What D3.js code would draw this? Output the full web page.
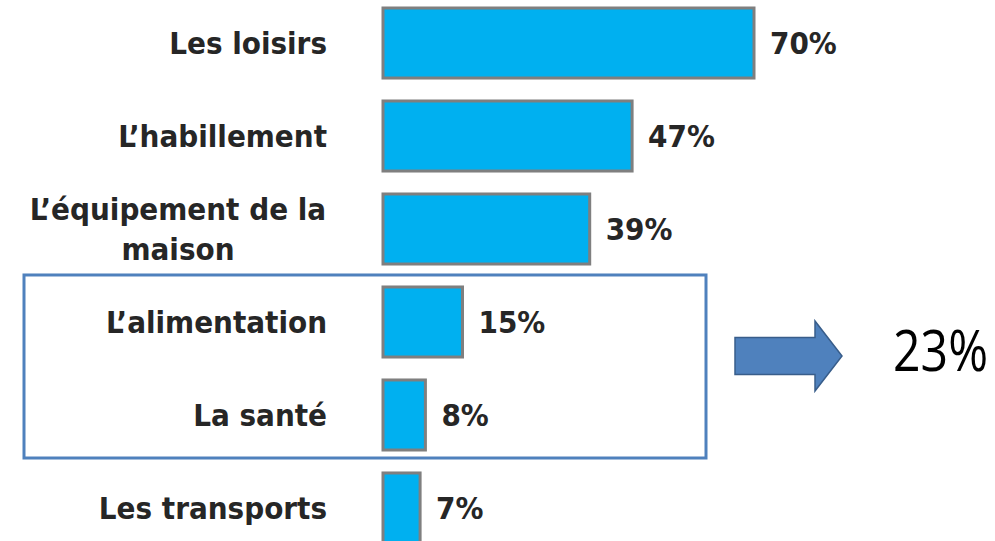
<!DOCTYPE html>
<html>
<head>
<meta charset="utf-8">
<script src="https://cdn.jsdelivr.net/npm/d3@7"></script>
<style>
  body { margin: 0; background: #fff; }
  svg { display: block; }
</style>
</head>
<body>
<svg></svg>
<script>
// data
var categories = ["Les loisirs", "L\u2019habillement", "L\u2019\u00e9quipement de la maison", "L\u2019alimentation", "La sant\u00e9", "Les transports"];
var labelLines = [["Les loisirs"], ["L\u2019habillement"], ["L\u2019\u00e9quipement de la", "maison"], ["L\u2019alimentation"], ["La sant\u00e9"], ["Les transports"]];
var values = [70, 47, 39, 15, 8, 7];
var grouped = ["L\u2019alimentation", "La sant\u00e9"];
var groupTotal = "23%";

var width = 995, height = 541;

var svg = d3.select("svg")
    .attr("width", width)
    .attr("height", height);

var x = d3.scaleLinear()
    .domain([0, 70])
    .range([383, 754]);

var y = d3.scaleBand()
    .domain(categories)
    .range([8, 543])
    .paddingInner(0.247)
    .paddingOuter(0);

var labelFont = "'DejaVu Sans Condensed', 'DejaVu Sans', sans-serif";

// bars
svg.selectAll("rect.bar")
    .data(values)
  .enter().append("rect")
    .attr("class", "bar")
    .attr("x", x(0))
    .attr("y", function(d, i) { return y(categories[i]); })
    .attr("width", function(d) { return x(d) - x(0); })
    .attr("height", y.bandwidth())
    .style("fill", "#00b0f0")
    .style("stroke", "#7f7f7f")
    .style("stroke-width", 3);

// value labels
svg.selectAll("text.value")
    .data(values)
  .enter().append("text")
    .attr("class", "value")
    .attr("x", function(d) { return x(d) + 16; })
    .attr("y", function(d, i) { return y(categories[i]) + y.bandwidth() / 2; })
    .attr("dy", ".35em")
    .style("font-family", labelFont)
    .style("font-weight", "bold")
    .style("font-size", "31px")
    .style("fill", "#262626")
    .text(function(d) { return d + "%"; });

// category labels
var lbl = svg.selectAll("text.cat")
    .data(labelLines)
  .enter().append("text")
    .attr("class", "cat")
    .attr("x", function(d) { return d.length > 1 ? 178 : 327; })
    .attr("y", function(d, i) { return y(categories[i]) + y.bandwidth() / 2; })
    .attr("text-anchor", function(d) { return d.length > 1 ? "middle" : "end"; })
    .style("font-family", labelFont)
    .style("font-weight", "bold")
    .style("font-size", "31px")
    .style("fill", "#262626");

lbl.each(function(lines) {
  var t = d3.select(this);
  var cy = +t.attr("y");
  var lh = 40;
  lines.forEach(function(line, k) {
    t.append("tspan")
      .attr("x", t.attr("x"))
      .attr("y", cy + (k - (lines.length - 1) / 2) * lh)
      .attr("dy", ".35em")
      .text(line);
  });
});

// box round the grouped categories
var gTop = y(grouped[0]) - 12,
    gBot = y(grouped[grouped.length - 1]) + y.bandwidth() + 8;
svg.append("rect")
    .attr("x", 24)
    .attr("y", gTop)
    .attr("width", 682)
    .attr("height", gBot - gTop)
    .style("fill", "none")
    .style("stroke", "#4f81bd")
    .style("stroke-width", 3);

// arrow
var ay = gTop + 81;
var arrow = [[735, ay - 18.5], [815, ay - 18.5], [815, ay - 35], [842, ay], [815, ay + 35], [815, ay + 18.5], [735, ay + 18.5]];
svg.append("path")
    .attr("d", d3.line()(arrow) + "Z")
    .style("fill", "#4f81bd")
    .style("stroke", "#385d8a")
    .style("stroke-width", 1.5);

// total, squeezed horizontally to the narrow look of the original
var total = svg.append("text")
    .style("font-family", "'Open Sans', sans-serif")
    .style("font-size", "56px")
    .style("fill", "#000")
    .text(groupTotal);
var sx = 95 / total.node().getComputedTextLength();
total.attr("transform", "translate(893," + (ay + 15) + ")scale(" + sx + ",1)");
</script>
</body>
</html>
